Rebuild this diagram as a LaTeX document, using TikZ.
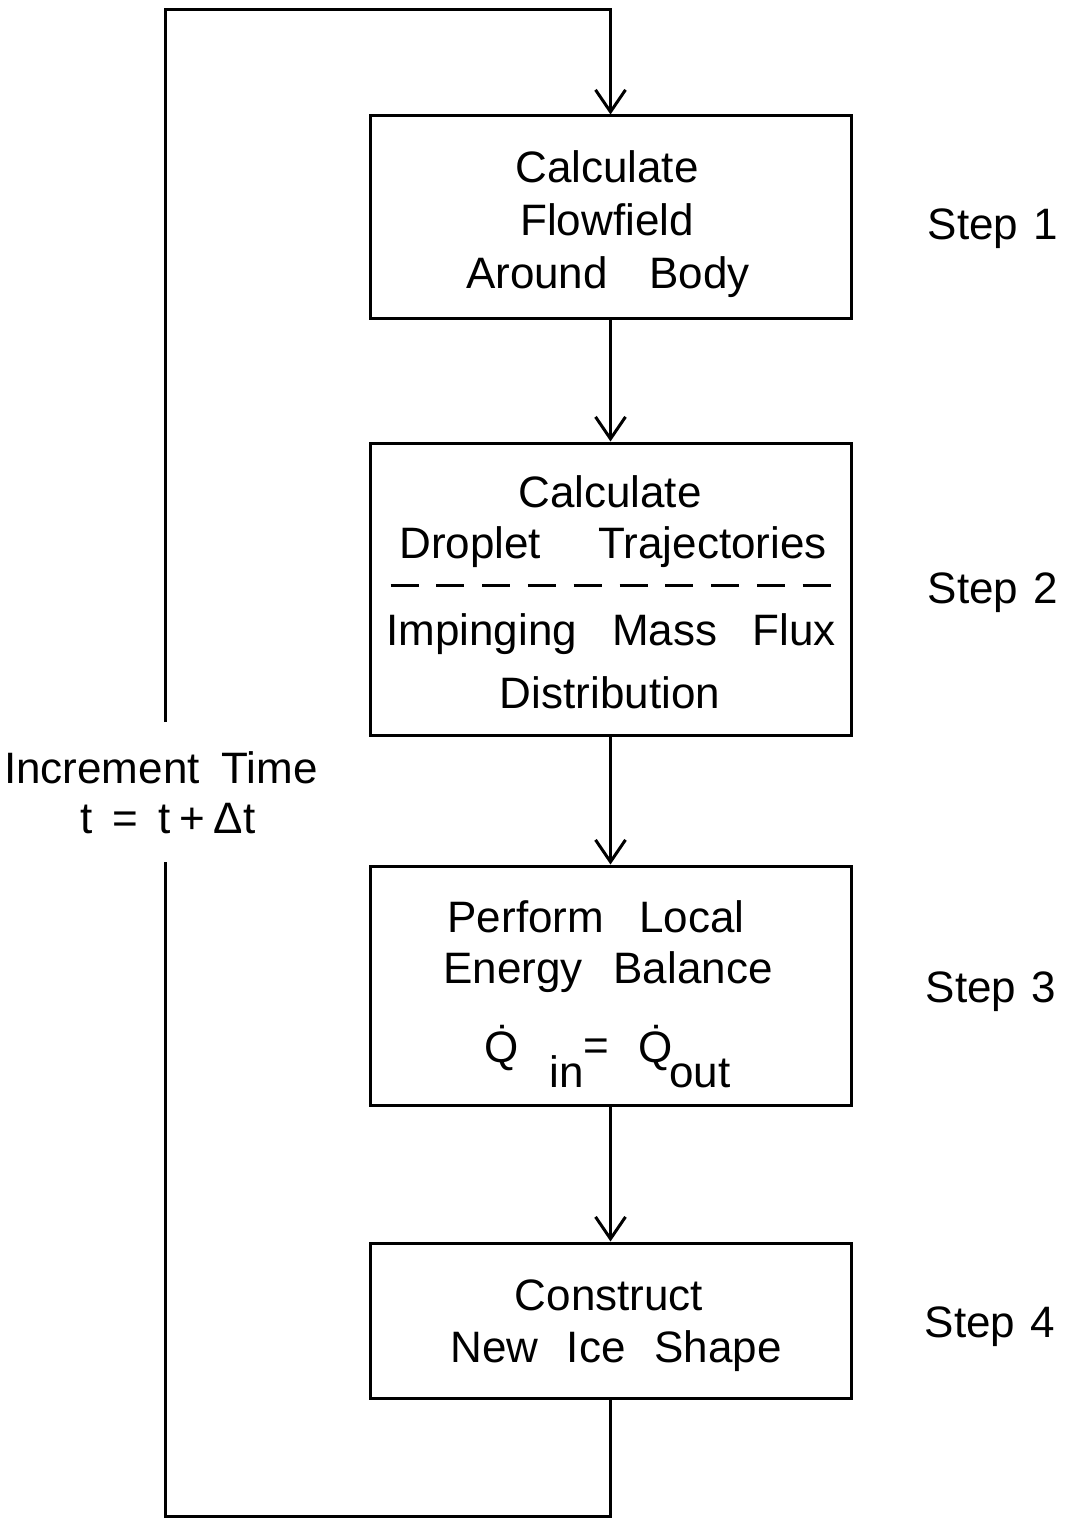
\documentclass[tikz,border=0pt]{standalone}
\usepackage{fontspec}
\setmainfont{Liberation Sans}
\usetikzlibrary{arrows.meta}
\newcommand\ws{\hspace{0.8em}}
\begin{document}
\begin{tikzpicture}[x=0.5pt,y=-0.5pt,
  line width=1.5pt,
  box/.style={draw, rectangle, inner sep=0pt, minimum width=240.5pt},
  txt/.style={anchor=base, inner sep=0pt, font=\fontsize{22pt}{26pt}\selectfont},
  arr/.style={-{Straight Barb[length=11pt,width=15pt]}},
  dashline/.style={dash pattern=on 14pt off 8.9pt}
]
\useasboundingbox (0,0) rectangle (1065,1519);

% boxes
\node[box, minimum height=101.5pt] (b1) at (610.5,217.5) {};
\node[box, minimum height=146pt]   (b2) at (610.5,589) {};
\node[box, minimum height=119.5pt] (b3) at (610.5,985.5) {};
\node[box, minimum height=77.5pt]  (b4) at (610.5,1320.5) {};

% box 1 text
\node[txt] (t1a) at (607,183) {Calculate};
\node[txt] (t1b) at (607,236) {Flowfield};
\node[txt] (t1c) at (608,289) {Around\hspace{0.95em}Body};

% box 2 text
\node[txt] (t2a) at (610,507) {Calculate};
\node[txt] (t2b) at (613,558) {Droplet\hspace{1.3em}Trajectories};
\draw[dashline] ([xshift=11pt]b2.west |- 0,585) coordinate (d1) -- ([xshift=-9.5pt]b2.east |- 0,585) coordinate (d2);
\node[txt] (t2c) at (611,645) {Impinging\ws Mass\ws Flux};
\node[txt] (t2d) at (610,708) {Distribution};

% box 3 text
\node[txt] (t3a) at (596,932) {Perform\ws Local};
\node[txt] (t3b) at (608,983) {Energy\hspace{0.7em}Balance};
\node[txt] (q1) at (502,1062) {\.{Q}};
\node[txt] (q1s) at (567,1087) {in};
\node[txt] (qeq) at (596,1060) {=};
\node[txt] (q2) at (656,1062) {\.{Q}};
\node[txt] (q2s) at (700,1087) {out};

% box 4 text
\node[txt] (t4a) at (609,1310) {Construct};
\node[txt] (t4b) at (616,1362) {New\hspace{0.65em}Ice\hspace{0.65em}Shape};

% step labels
\node[txt] (s1) at (993,240) {Step\hspace{0.35em}1};
\node[txt] (s2) at (993,603) {Step\hspace{0.35em}2};
\node[txt] (s3) at (991,1002) {Step\hspace{0.35em}3};
\node[txt] (s4) at (990,1337) {Step\hspace{0.35em}4};

% increment label
\node[txt] (inc1) at (161,783) {Increment\hspace{0.5em}Time};
\node[txt] (inc2) at (168,833) {t\hspace{0.45em}=\hspace{0.45em}t\hspace{0.2em}+\hspace{0.2em}Δt};

% connectors
\draw[arr] (b1.south) -- (b2.north);
\draw[arr] (b2.south) -- (b3.north);
\draw[arr] (b3.south) -- (b4.north);

\coordinate (tl) at (165,10);
\coordinate (bl) at (165,1516);
\coordinate (gtop) at (165,722);
\coordinate (gbot) at (165,862);
\draw (b4.south) |- (bl) -- (gbot);
\draw[arr] (gtop) -- (tl) -| (b1.north);
\end{tikzpicture}
\end{document}
